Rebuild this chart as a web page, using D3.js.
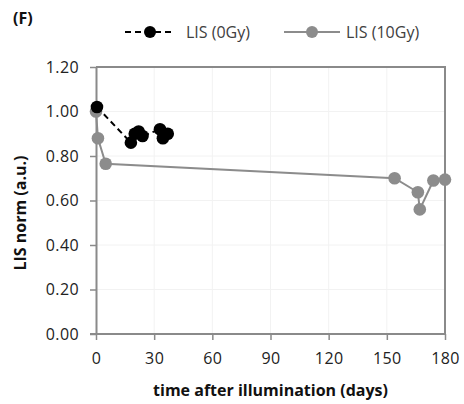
<!DOCTYPE html>
<html>
<head>
<meta charset="utf-8">
<script src="https://cdn.jsdelivr.net/npm/d3@7"></script>
<style>
  body { margin: 0; background: #fff; }
  text { font-family: "Open Sans", sans-serif; }
</style>
</head>
<body>
<div id="chart"></div>
<script>
// LIS (0Gy) and LIS (10Gy) series
const days0Gy = [0.5, 18, 20, 22, 24, 33, 34.5, 37];
const lis0Gy = [1.02, 0.86, 0.90, 0.91, 0.89, 0.92, 0.88, 0.90];
const days10Gy = [0, 1, 5, 154, 166, 167, 174, 180];
const lis10Gy = [1.00, 0.88, 0.765, 0.70, 0.637, 0.56, 0.69, 0.694];
const xTicks = [0, 30, 60, 90, 120, 150, 180];
const yTicks = [0, 0.2, 0.4, 0.6, 0.8, 1.0, 1.2];
const seriesNames = ["LIS (0Gy)", "LIS (10Gy)"];

const width = 464, height = 404;
const margin = {top: 67, right: 19, bottom: 70, left: 96};
const axisColor = "#8a8a8a";

const svg = d3.select("#chart").append("svg")
  .attr("width", width)
  .attr("height", height);

const x = d3.scaleLinear().domain([0, 180]).range([margin.left, width - margin.right]);
const y = d3.scaleLinear().domain([0, 1.2]).range([height - margin.bottom, margin.top]);

// light grid
svg.append("g")
  .selectAll("line.vg")
  .data(xTicks.slice(1, -1))
  .enter().append("line")
  .attr("x1", d => x(d)).attr("x2", d => x(d))
  .attr("y1", y(0)).attr("y2", y(1.2))
  .attr("stroke", "#f2f2f2").attr("stroke-width", 1);
svg.append("g")
  .selectAll("line.hg")
  .data(yTicks.slice(1, -1))
  .enter().append("line")
  .attr("x1", x(0)).attr("x2", x(180))
  .attr("y1", d => y(d)).attr("y2", d => y(d))
  .attr("stroke", "#f2f2f2").attr("stroke-width", 1);

// box border (top & right)
svg.append("path")
  .attr("d", `M${x(0)},${y(1.2)}H${x(180)}V${y(0)}`)
  .attr("fill", "none")
  .attr("stroke", axisColor)
  .attr("stroke-width", 2);

const xAxis = svg.append("g")
  .attr("transform", `translate(0,${y(0)})`)
  .call(d3.axisBottom(x).tickValues(xTicks).tickSize(6).tickPadding(13).tickSizeOuter(0));
const yAxis = svg.append("g")
  .attr("transform", `translate(${x(0)},0)`)
  .call(d3.axisLeft(y).tickValues(yTicks).tickFormat(d3.format(".2f")).tickSize(6).tickPadding(11).tickSizeOuter(0));

[xAxis, yAxis].forEach(g => {
  g.select(".domain").attr("stroke", axisColor).attr("stroke-width", 2);
  g.selectAll(".tick line").attr("stroke", axisColor).attr("stroke-width", 1.5);
  g.selectAll(".tick text")
    .attr("fill", "#222")
    .style("font-size", "16px")
    .style("letter-spacing", "0.4px")
    .style("font-family", "'Open Sans', sans-serif");
});
// extend x axis to the left like the reference
xAxis.select(".domain").attr("d", `M${x(0) - 6},0H${x(180)}`);

// axis titles
svg.append("text")
  .attr("x", (x(0) + x(180)) / 2)
  .attr("y", 396)
  .attr("text-anchor", "middle")
  .style("font-size", "16px")
  .style("font-weight", "bold")
  .attr("fill", "#111")
  .text("time after illumination (days)");

svg.append("text")
  .attr("transform", `translate(26,213) rotate(-90)`)
  .attr("text-anchor", "middle")
  .style("font-size", "16px")
  .style("font-weight", "bold")
  .attr("fill", "#111")
  .text("LIS norm (a.u.)");

svg.append("text")
  .attr("x", 13).attr("y", 24)
  .style("font-size", "16px")
  .style("font-weight", "bold")
  .attr("fill", "#111")
  .text("(F)");

const line = d3.line().x(d => x(d[0])).y(d => y(d[1]));
const data10 = days10Gy.map((d, i) => [d, lis10Gy[i]]);
const data0 = days0Gy.map((d, i) => [d, lis0Gy[i]]);

const gray = "#8c8c8c";

svg.append("path")
  .datum(data10)
  .attr("d", line)
  .attr("fill", "none")
  .attr("stroke", gray)
  .attr("stroke-width", 2);

svg.append("g").selectAll("circle")
  .data(data10)
  .enter().append("circle")
  .attr("cx", d => x(d[0])).attr("cy", d => y(d[1]))
  .attr("r", 6.3)
  .attr("fill", gray);

svg.append("path")
  .datum(data0)
  .attr("d", line)
  .attr("fill", "none")
  .attr("stroke", "#000")
  .attr("stroke-width", 2)
  .attr("stroke-dasharray", "6,4");

svg.append("g").selectAll("circle")
  .data(data0)
  .enter().append("circle")
  .attr("cx", d => x(d[0])).attr("cy", d => y(d[1]))
  .attr("r", 6.3)
  .attr("fill", "#000");

// legend
const legend = svg.append("g");
const leg = [
  {name: seriesNames[0], x0: 125, x1: 175, color: "#000", dash: "6,4", tx: 186},
  {name: seriesNames[1], x0: 284, x1: 340, color: gray, dash: null, tx: 346}
];
leg.forEach(l => {
  legend.append("line")
    .attr("x1", l.x0).attr("x2", l.x1)
    .attr("y1", 32).attr("y2", 32)
    .attr("stroke", l.color).attr("stroke-width", 2)
    .attr("stroke-dasharray", l.dash);
  legend.append("circle")
    .attr("cx", (l.x0 + l.x1) / 2).attr("cy", 32).attr("r", 6)
    .attr("fill", l.color);
  legend.append("text")
    .attr("x", l.tx).attr("y", 38)
    .style("font-size", "16px")
    .attr("fill", "#404040")
    .text(l.name);
});
</script>
</body>
</html>
